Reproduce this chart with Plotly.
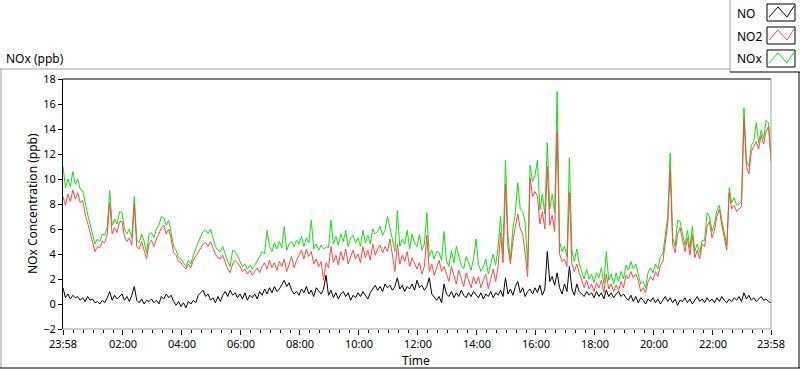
import pandas as pd
import plotly.graph_objects as go

# ---------------- data (5-minute samples, 23:58 -> 23:58) ----------------
start_time = "2020-01-01 23:58"
step_minutes = 5

no_ppb = [
    1.3, 0.5, 0.8, 0.4, 0.7, 0.5, 0.6, 0.3, 0.5, 0.2, 0.6, 0.3,
    0.4, 0.1, 0.2, 0.0, 0.3, 0.1, 0.5, 1.0, 0.3, 0.7, 0.4, 0.6,
    0.8, 0.3, 0.6, 0.2, 0.7, 1.4, 0.3, 0.1, 0.4, 0.0, 0.3, 0.2,
    0.4, 0.1, 0.3, 0.0, 0.6, 0.4, 0.8, 0.5, 0.7, 0.2, -0.1, 0.2,
    -0.2, 0.1, -0.3, 0.2, 0.0, 0.3, 0.1, 0.7, 0.9, 1.1, 0.6, 0.8,
    0.3, 0.5, 0.1, 0.6, 0.2, 0.7, 1.0, 0.6, 1.1, 0.7, 0.9, 0.5,
    0.8, 0.4, 0.9, 0.3, 0.7, 0.5, 0.8, 0.4, 1.0, 0.7, 1.2, 0.8,
    1.3, 0.9, 1.4, 1.0, 1.2, 1.6, 1.9, 1.4, 1.7, 1.1, 0.8, 1.0,
    0.7, 1.2, 0.9, 1.4, 0.8, 1.1, 0.6, 1.3, 1.0, 0.8, 1.2, 2.3,
    0.7, 1.1, 0.5, 0.9, 0.4, 0.8, 1.0, 0.6, 0.9, 0.3, 0.7, 0.5,
    0.9, 0.6, 1.0, 0.7, 0.4, 0.9, 1.2, 1.5, 1.1, 1.4, 1.0, 1.6,
    1.3, 1.5, 1.1, 1.4, 2.1, 1.2, 1.5, 1.0, 1.4, 1.2, 1.6, 1.1,
    1.9, 1.3, 1.5, 1.1, 1.4, 2.1, 0.8, 0.5, 0.3, 0.6, 0.1, 1.6,
    0.8, 0.6, 1.0, 0.5, 0.9, 0.6, 1.1, 0.7, 0.5, 0.9, 0.6, 1.0,
    0.7, 0.5, 0.9, 0.4, 0.8, 0.6, 1.0, 0.5, 0.9, 0.7, 1.1, 0.6,
    2.1, 0.8, 1.2, 0.7, 1.4, 1.8, 0.9, 1.3, 0.6, 1.0, 1.2, 0.8,
    1.3, 0.9, 1.5, 0.7, 1.2, 4.2, 1.8, 2.2, 1.5, 2.5, 1.3, 0.8,
    1.6, 1.0, 3.0, 1.2, 0.7, 1.6, 1.0, 0.8, 0.6, 1.0, 0.7, 0.9,
    0.5, 1.0, 0.6, 0.9, 0.4, 1.1, 0.6, 0.9, 0.5, 0.8, 1.0, 0.6,
    0.8, 0.5, 0.3, 0.7, 0.2, 0.6, 0.1, 0.5, 0.3, 0.0, 0.4, 0.2,
    0.5, 0.1, 0.4, 0.0, 0.3, 0.6, 0.2, 0.5, 0.1, 0.4, -0.1, 0.3,
    0.2, 0.5, 0.1, 0.4, 0.0, 0.3, 0.6, 0.2, 0.4, 0.1, 0.5, 0.2,
    0.4, 0.1, 0.5, 0.2, 0.6, 0.3, 0.1, 0.4, 0.2, 0.5, 0.3, 0.6,
    0.2, 0.9, 0.4, 0.7, 0.3, 0.5, 0.2, 0.4, 0.6, 0.3, 0.4, 0.2,
    0.1,
]

no2_ppb = [
    8.6, 7.9, 8.8, 8.2, 9.1, 8.4, 8.9, 8.1, 8.3, 7.2, 6.5, 5.8,
    5.0, 4.2, 4.6, 4.5, 5.0, 4.9, 5.6, 8.1, 5.6, 6.1, 5.7, 6.6,
    6.6, 5.4, 5.0, 5.3, 4.7, 8.0, 4.6, 4.4, 5.0, 4.3, 3.6, 4.8,
    5.1, 4.6, 5.2, 5.6, 6.1, 6.3, 5.6, 6.0, 5.2, 4.1, 3.9, 3.4,
    3.3, 3.0, 2.8, 3.2, 2.9, 3.5, 3.8, 4.2, 4.5, 4.8, 4.9, 4.6,
    5.0, 4.5, 4.0, 3.7, 3.6, 3.9, 3.4, 2.8, 2.5, 3.2, 3.5, 3.3,
    3.0, 2.6, 2.8, 2.4, 2.7, 2.3, 2.6, 2.9, 2.5, 3.0, 3.3, 2.8,
    3.5, 2.9, 3.3, 2.7, 3.4, 3.0, 3.6, 2.6, 3.2, 3.8, 2.9, 3.5,
    3.9, 4.3, 3.6, 4.4, 3.8, 4.2, 3.2, 3.6, 3.0, 3.4, 1.9, 3.3,
    2.9, 4.6, 3.3, 3.9, 3.1, 4.2, 3.5, 4.4, 3.2, 3.8, 4.3, 3.6,
    4.0, 3.3, 4.6, 3.7, 4.3, 3.5, 4.8, 3.9, 4.4, 4.7, 4.1, 4.6,
    4.2, 5.2, 3.8, 2.6, 4.8, 3.2, 3.9, 3.4, 4.2, 3.0, 3.7, 3.2,
    2.8, 3.3, 2.4, 3.0, 5.5, 2.6, 3.2, 2.3, 2.9, 3.5, 2.6, 3.0,
    2.4, 1.8, 3.0, 2.2, 1.6, 2.7, 2.0, 1.4, 2.5, 1.9, 1.3, 2.2,
    1.6, 2.2, 1.3, 1.9, 2.4, 1.2, 2.0, 2.8, 1.8, 3.0, 5.7, 3.3,
    9.6, 4.5, 3.2, 5.0, 6.2, 7.2, 6.0, 5.6, 4.0, 2.2, 10.1, 8.6,
    9.0, 8.6, 6.4, 7.4, 6.0, 11.0, 6.3, 7.1, 5.8, 13.9, 4.0, 3.4,
    3.6, 3.0, 8.9, 3.2, 2.6, 3.2, 2.5, 1.8, 1.3, 1.9, 1.2, 1.6,
    1.0, 1.7, 1.3, 1.9, 0.9, 2.4, 1.2, 1.6, 1.0, 1.5, 1.1, 1.8,
    1.3, 2.3, 2.0, 2.6, 2.1, 2.4, 1.9, 1.0, 1.3, 0.9, 1.8, 2.2,
    1.9, 2.6, 2.2, 3.1, 3.4, 4.9, 6.5, 10.8, 4.8, 4.1, 5.6, 6.1,
    5.0, 4.2, 5.3, 3.9, 5.5, 3.7, 4.3, 3.6, 4.8, 4.6, 6.2, 6.6,
    5.3, 5.9, 7.0, 7.6, 6.3, 5.2, 4.3, 8.9, 7.6, 7.9, 7.4, 7.6,
    7.8, 14.8, 11.0, 10.4, 12.2, 12.6, 13.0, 12.4, 13.5, 12.8, 13.8, 14.2,
    11.4,
]

nox_ppb = [
    11.0, 9.3, 10.0, 9.4, 10.6, 9.6, 10.0, 9.2, 9.1, 8.0, 7.2, 6.4,
    5.6, 4.8, 5.2, 5.0, 5.6, 5.5, 6.2, 9.1, 6.3, 6.8, 6.4, 7.4,
    7.3, 6.0, 5.6, 6.0, 5.3, 8.6, 5.1, 4.9, 5.6, 5.0, 4.1, 5.6,
    5.7, 5.3, 6.0, 6.3, 7.0, 6.9, 6.3, 6.7, 5.7, 4.6, 4.3, 3.7,
    3.6, 3.3, 3.0, 3.5, 3.2, 3.9, 4.4, 5.0, 5.4, 5.8, 5.9, 5.6,
    6.0, 5.3, 4.6, 4.3, 4.2, 4.6, 4.0, 3.4, 3.0, 4.3, 4.2, 3.9,
    3.4, 3.0, 3.2, 2.8, 3.1, 2.8, 3.1, 3.4, 3.8, 4.2, 4.0, 5.9,
    4.6, 4.2, 4.9, 4.4, 5.0, 4.5, 6.2, 4.3, 4.8, 5.0, 4.6, 5.1,
    4.8, 5.4, 4.6, 5.3, 4.9, 6.7, 4.4, 4.8, 4.3, 4.7, 4.4, 4.6,
    4.5, 6.7, 4.8, 5.4, 4.7, 5.6, 5.0, 5.9, 4.6, 5.3, 5.5, 4.9,
    5.3, 4.6, 5.9, 4.9, 5.5, 4.8, 6.0, 5.6, 5.8, 6.2, 5.5, 5.9,
    7.0, 6.1, 5.0, 4.2, 7.5, 4.6, 5.2, 4.8, 5.9, 4.4, 5.6, 4.9,
    4.6, 5.6, 4.3, 4.8, 7.3, 3.8, 4.3, 3.6, 4.2, 4.1, 3.5, 5.8,
    3.4, 3.0, 4.3, 3.3, 4.6, 3.9, 3.1, 2.8, 3.8, 3.3, 2.7, 3.6,
    5.2, 3.2, 2.6, 3.0, 3.6, 2.4, 3.2, 4.0, 3.1, 4.6, 7.0, 4.0,
    11.5, 5.4, 3.6, 6.0, 7.3, 9.7, 7.6, 7.4, 6.5, 3.0, 11.1, 9.8,
    10.3, 11.5, 7.5, 8.8, 7.2, 12.9, 7.6, 8.8, 7.3, 17.0, 5.0, 4.2,
    4.6, 3.8, 11.7, 4.3, 3.4, 4.4, 3.2, 2.6, 2.0, 2.8, 2.0, 2.4,
    1.7, 2.5, 2.1, 2.9, 1.6, 4.2, 1.9, 2.4, 1.6, 2.5, 1.8, 2.6,
    2.0, 3.1, 2.7, 3.4, 2.8, 3.2, 2.5, 1.6, 1.8, 1.3, 2.5, 2.9,
    2.5, 3.2, 2.8, 3.8, 4.0, 5.4, 7.0, 12.1, 5.3, 4.6, 6.7, 6.6,
    5.5, 4.7, 5.9, 4.5, 6.2, 4.2, 4.8, 4.1, 5.1, 5.1, 7.3, 7.0,
    5.8, 6.4, 7.5, 7.9, 6.7, 5.6, 4.7, 9.3, 8.1, 8.5, 7.9, 8.0,
    8.2, 15.7, 11.5, 11.0, 12.7, 13.0, 14.5, 12.9, 13.9, 13.2, 14.7, 14.5,
    11.9,
]

x_tick_labels = ["23:58", "02:00", "04:00", "06:00", "08:00", "10:00", "12:00",
                 "14:00", "16:00", "18:00", "20:00", "22:00", "23:58"]
y_range = [-2, 18]

# ---------------- build ----------------
t0 = pd.Timestamp(start_time)
times = pd.date_range(t0, periods=len(no_ppb), freq=f"{step_minutes}min")
t_end = t0 + pd.Timedelta(hours=24)
tickvals = [t0] + [pd.Timestamp("2020-01-02") + pd.Timedelta(hours=h) for h in range(2, 23, 2)] + [t_end]
minor_vals = [v for v in pd.date_range(pd.Timestamp("2020-01-02 00:20"), t_end, freq="20min")
              if v.minute != 0 or v.hour % 2 == 1]

FONT = "Noto Sans"
W, H = 800, 369
L, R, T, B = 63, 29, 79, 40
PW, PH = W - L - R, H - T - B


def px(x):
    return (x - L) / PW


def py(y):
    return (H - B - y) / PH


fig = go.Figure()
fig.add_trace(go.Scatter(x=times, y=nox_ppb, mode="lines", name="NOx",
                         line=dict(color="#10e010", width=1)))
fig.add_trace(go.Scatter(x=times, y=no2_ppb, mode="lines", name="NO2",
                         line=dict(color="#ff4646", width=1)))
fig.add_trace(go.Scatter(x=times, y=no_ppb, mode="lines", name="NO",
                         line=dict(color="#000000", width=1)))

shapes = []
# plot-area border: black top/left, gray right/bottom
shapes.append(dict(type="line", xref="paper", yref="paper", x0=0, x1=1, y0=1, y1=1,
                   line=dict(color="black", width=1)))
shapes.append(dict(type="line", xref="paper", yref="paper", x0=1, x1=1, y0=0, y1=1,
                   line=dict(color="#a0a0a0", width=1)))
shapes.append(dict(type="line", xref="paper", yref="paper", x0=0, x1=1, y0=0, y1=0,
                   line=dict(color="#a0a0a0", width=1)))
# outer frame
shapes.append(dict(type="line", xref="paper", yref="paper", x0=px(0), x1=px(730), y0=py(69), y1=py(69),
                   line=dict(color="#a0a0a0", width=1)))
shapes.append(dict(type="line", xref="paper", yref="paper", x0=px(1), x1=px(1), y0=py(69), y1=py(368),
                   line=dict(color="#a0a0a0", width=1)))
shapes.append(dict(type="line", xref="paper", yref="paper", x0=px(0), x1=px(800), y0=py(368), y1=py(368),
                   line=dict(color="black", width=1)))
shapes.append(dict(type="line", xref="paper", yref="paper", x0=px(799), x1=px(799), y0=py(72), y1=py(368),
                   line=dict(color="black", width=1)))
# legend frame
shapes.append(dict(type="line", xref="paper", yref="paper", x0=px(730), x1=px(730), y0=py(0), y1=py(72),
                   line=dict(color="#a0a0a0", width=1)))
shapes.append(dict(type="line", xref="paper", yref="paper", x0=px(730), x1=px(800), y0=py(72), y1=py(72),
                   line=dict(color="black", width=1)))

annotations = []
legend_items = [("NO", "#000000"), ("NO2", "#ff4646"), ("NOx", "#10e010")]
for i, (name, col) in enumerate(legend_items):
    top = 4 + i * 23
    shapes.append(dict(type="rect", xref="paper", yref="paper",
                       x0=px(767), x1=px(795), y0=py(top), y1=py(top + 17),
                       line=dict(color="black", width=1), fillcolor="white"))
    zz = [(769, top + 13), (778, top + 3), (787, top + 13), (794, top + 2)]
    path = "M " + " L ".join(f"{px(a)},{py(b)}" for a, b in zz)
    shapes.append(dict(type="path", xref="paper", yref="paper", path=path,
                       line=dict(color=col, width=1)))
    annotations.append(dict(text=name, xref="paper", yref="paper", x=px(735), y=py(top + 9),
                            xanchor="left", yanchor="middle", showarrow=False,
                            font=dict(family=FONT, size=12, color="black")))

annotations.append(dict(text="NOx (ppb)", xref="paper", yref="paper", x=px(4), y=py(59),
                        xanchor="left", yanchor="middle", showarrow=False,
                        font=dict(family=FONT, size=12, color="black")))
annotations.append(dict(text="NOx Concentration (ppb)", xref="paper", yref="paper", x=px(32), y=py(204),
                        xanchor="center", yanchor="middle", textangle=-90, showarrow=False,
                        font=dict(family=FONT, size=12, color="black")))
annotations.append(dict(text="Time", xref="paper", yref="paper", x=px(416), y=py(360),
                        xanchor="center", yanchor="middle", showarrow=False,
                        font=dict(family=FONT, size=12, color="black")))

fig.update_layout(
    width=W, height=H,
    margin=dict(l=L, r=R, t=T, b=B, pad=0),
    paper_bgcolor="white", plot_bgcolor="white",
    showlegend=False, hovermode=False,
    shapes=shapes, annotations=annotations,
    font=dict(family=FONT, size=11, color="black"),
)
fig.update_xaxes(
    type="date", range=[t0, t_end],
    tickmode="array", tickvals=tickvals, ticktext=x_tick_labels,
    ticks="outside", ticklen=5, tickcolor="black", tickwidth=1,
    showgrid=False, zeroline=False, showline=False,
    tickfont=dict(family=FONT, size=11, color="black"),
    minor=dict(tickmode="array", tickvals=minor_vals, ticks="outside", ticklen=3,
               tickcolor="black", showgrid=False),
)
fig.update_yaxes(
    range=y_range, tickmode="linear", tick0=-2, dtick=2,
    ticks="outside", ticklen=4, tickcolor="black", tickwidth=1,
    showgrid=False, zeroline=False, showline=True, linecolor="black", linewidth=1,
    tickfont=dict(family=FONT, size=11, color="black"),
)

fig.write_html(
    "out.html",
    config={"displayModeBar": False, "staticPlot": True},
    post_script="document.body.style.margin='0';document.body.style.overflow='hidden';",
)
